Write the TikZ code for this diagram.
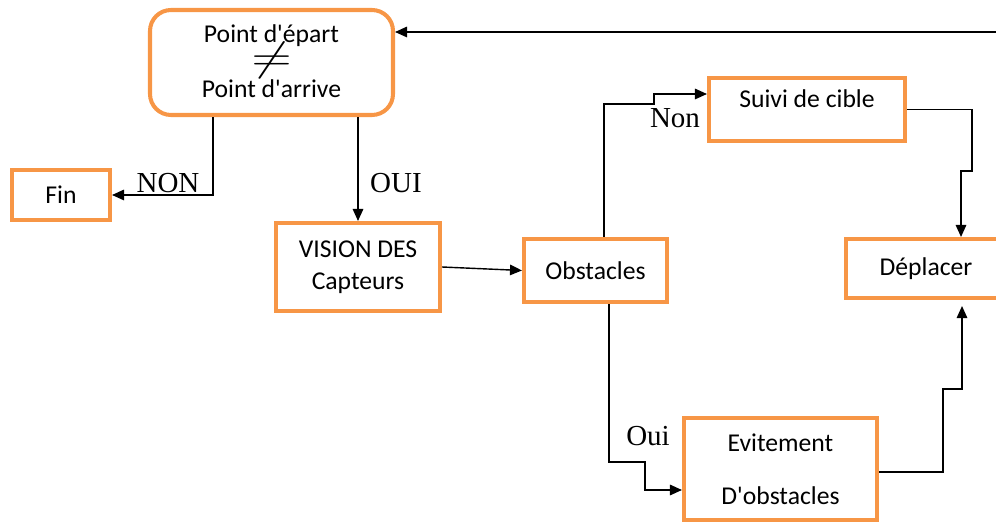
\documentclass[tikz,border=0pt]{standalone}
\usepackage{fontspec}
\setmainfont{Carlito}
\newfontfamily\lblfont{Liberation Serif}
\usepackage{graphicx}
\usepackage{xcolor}
\usepackage{tikz}
\usetikzlibrary{arrows.meta,calc,positioning}
\definecolor{boxorange}{RGB}{247,150,70}

\begin{document}
\begin{tikzpicture}[scale=1.0,>={Triangle[length=2.4mm,width=2.1mm]},
    box/.style={draw=boxorange,line width=2.3pt,align=center,inner sep=2pt,
        font=\fontsize{14.6}{17}\selectfont},
    lbl/.style={font=\lblfont\fontsize{16.5}{16.5}\selectfont,inner sep=1pt},
    link/.style={draw=black,line width=0.8pt}]
    \useasboundingbox (0,0) rectangle (19.92,-10.46);
    \clip (0,0) rectangle (19.92,-10.46);
    \node[box,rounded corners=0.42cm,minimum width=4.86cm,minimum height=2.1cm] (start) at (5.43,-1.25)
        {Point d\textquotesingle épart\\[-3pt]\scalebox{2.1}[1.6]{$\neq$}\\[-2pt]Point d\textquotesingle arrive\\[-15pt]\mbox{}};
    \node[box,minimum width=1.96cm,minimum height=1.0cm] (fin) at (1.22,-3.9) {Fin};
    \node[box,minimum width=3.28cm,minimum height=1.76cm] (vision) at (7.16,-5.34) {VISION DES\\[1pt]Capteurs};
    \node[box,minimum width=2.86cm,minimum height=1.26cm] (obst) at (11.91,-5.41) {Obstacles};
    \node[box,minimum width=3.92cm,minimum height=1.26cm,text depth=12pt] (suivi) at (16.14,-2.19) {Suivi de cible};
    \node[box,minimum width=3.2cm,minimum height=1.18cm] (depl) at (18.52,-5.37) {Déplacer};
    \node[box,minimum width=3.86cm,minimum height=2.04cm] (evit) at (15.61,-9.38) {Evitement\\[13pt]D\textquotesingle obstacles};
    \coordinate (retour) at (19.92,-0.64);
    \draw[link,->] (retour) -- (retour -| start.east);
    \draw[link,->] ([xshift=-1.17cm]start.south) |- (fin.east);
    \node[lbl] (lnon) at (3.36,-3.66) {NON};
    \draw[link,->] (vision.north |- start.south) -- (vision.north);
    \node[lbl] (loui) at (7.92,-3.66) {OUI};
    \draw[link,->] (vision.east) -- (obst.west);
    \draw[link,->] ([xshift=0.17cm]obst.north) |- (13.08,-2.08) |- ([yshift=0.31cm]suivi.west);
    \node[lbl] (lnon2) at (13.5,-2.36) {Non};
    \draw[link,->] (suivi.east) -| (19.44,-3.42) -| ([xshift=0.7cm]depl.north);
    \draw[link,->] ([xshift=0.27cm]obst.south) |- (12.9,-9.24) |- ([yshift=-0.42cm]evit.west);
    \node[lbl] (loui2) at (12.96,-8.72) {Oui};
    \draw[link,->,shorten >=0.12cm] ([yshift=-0.06cm]evit.east) -| (18.86,-7.78) -| ([xshift=0.72cm]depl.south);
\end{tikzpicture}
\end{document}
